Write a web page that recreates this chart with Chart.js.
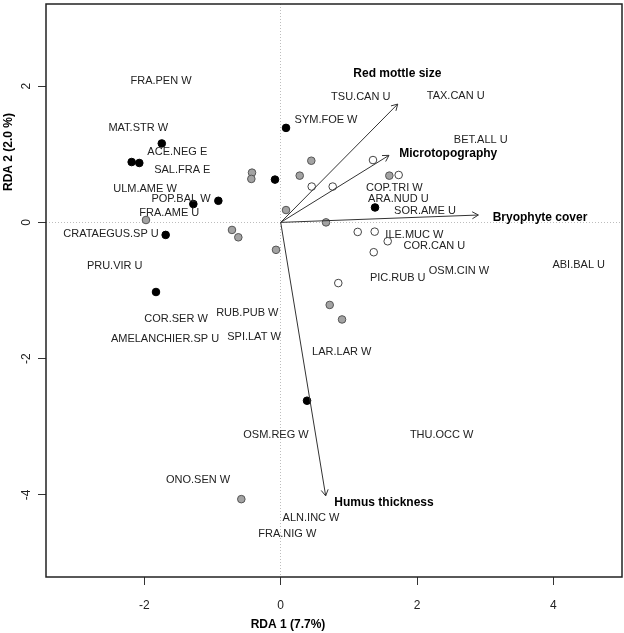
<!DOCTYPE html>
<html><head><meta charset="utf-8">
<script src="https://cdn.jsdelivr.net/npm/chart.js@4.4.1/dist/chart.umd.min.js"></script>
<style>html,body{margin:0;padding:0;background:#fff;} canvas{display:block;}</style>
</head><body>
<canvas id="c" width="624" height="633"></canvas>
<script>
const xTicks = [-2, 0, 2, 4];
const xTickLabels = ['-2', '0', '2', '4'];
const yTicks = [-4, -2, 0, 2];
const yTickLabels = ['-4', '-2', '0', '2'];
const xTitle = 'RDA 1 (7.7%)';
const yTitle = 'RDA 2 (2.0 %)';

const blackX = [-1.745, -2.187, -2.075, -0.084, -0.915, -1.282, -1.688, 0.078, -1.83, 1.384, 0.386];
const blackY = [1.159, 0.886, 0.872, 0.628, 0.317, 0.269, -0.184, 1.387, -1.022, 0.219, -2.618];
const greyX = [-0.421, -0.431, 0.078, -1.977, -0.715, -0.622, -0.069, 0.449, 0.279, 1.594, 0.665, 0.719, 0.9, -0.578];
const greyY = [0.730, 0.638, 0.181, 0.035, -0.111, -0.219, -0.403, 0.905, 0.686, 0.686, 0.0, -1.212, -1.425, -4.063];
const whiteX = [1.354, 1.731, 0.455, 0.763, 1.13, 1.379, 1.57, 1.365, 0.845];
const whiteY = [0.915, 0.696, 0.526, 0.526, -0.14, -0.136, -0.277, -0.438, -0.891];

const envNames = ['Red mottle size', 'Microtopography', 'Bryophyte cover', 'Humus thickness'];
const envX = [1.717, 1.589, 2.9, 0.66];
const envY = [1.737, 0.984, 0.108, -4.015];
const envLabelX = [1.711, 2.459, 3.805, 1.516];
const envLabelY = [2.18, 1.013, 0.073, -4.111];

const speciesNames = ['FRA.PEN W', 'MAT.STR W', 'ACE.NEG E', 'SAL.FRA E', 'ULM.AME W', 'POP.BAL W', 'FRA.AME U', 'CRATAEGUS.SP U',
  'PRU.VIR U', 'COR.SER W', 'AMELANCHIER.SP U', 'RUB.PUB W', 'SPI.LAT W',
  'TSU.CAN U', 'TAX.CAN U', 'SYM.FOE W', 'BET.ALL U', 'COP.TRI W', 'ARA.NUD U', 'SOR.AME U',
  'ILE.MUC W', 'COR.CAN U', 'ABI.BAL U', 'OSM.CIN W', 'PIC.RUB U', 'LAR.LAR W',
  'OSM.REG W', 'THU.OCC W', 'ONO.SEN W', 'ALN.INC W', 'FRA.NIG W'];
const speciesX = [-1.756, -2.09, -1.517, -1.444, -1.991, -1.463, -1.635, -2.49,
  -2.436, -1.536, -1.698, -0.49, -0.392,
  1.174, 2.568, 0.665, 2.935, 1.667, 1.726, 2.117,
  1.961, 2.254, 4.373, 2.616, 1.717, 0.895,
  -0.069, 2.362, -1.213, 0.445, 0.097];
const speciesY = [2.069, 1.387, 1.028, 0.774, 0.492, 0.346, 0.142, -0.169,
  -0.642, -1.42, -1.717, -1.337, -1.683,
  1.839, 1.854, 1.499, 1.207, 0.511, 0.346, 0.171,
  -0.18, -0.34, -0.632, -0.71, -0.818, -1.898,
  -3.128, -3.128, -3.781, -4.34, -4.569];

const pts = (xs, ys) => xs.map((x, i) => ({x: x, y: ys[i]}));
const FONT = "'Liberation Sans', Arial, sans-serif";
Chart.defaults.font.family = FONT;

const datasets = [];
envNames.forEach((n, i) => {
  datasets.push({type: 'line', label: n, isArrow: true, data: [{x: 0, y: 0}, {x: envX[i], y: envY[i]}],
    borderColor: '#333', borderWidth: 1, pointRadius: 0, fill: false, tension: 0});
});
datasets.push({type: 'scatter', label: 'grey', data: pts(greyX, greyY), pointRadius: 3.8,
  backgroundColor: '#a3a3a3', borderColor: '#555', borderWidth: 1});
datasets.push({type: 'scatter', label: 'white', data: pts(whiteX, whiteY), pointRadius: 3.8,
  backgroundColor: '#fff', borderColor: '#444', borderWidth: 1});
datasets.push({type: 'scatter', label: 'black', data: pts(blackX, blackY), pointRadius: 3.8,
  backgroundColor: '#000', borderColor: '#000', borderWidth: 1});

const overlay = {
  id: 'overlay',
  afterDatasetsDraw(chart) {
    const ctx = chart.ctx, xs = chart.scales.x, ys = chart.scales.y, a = chart.chartArea;
    ctx.save();
    chart.data.datasets.forEach((ds, di) => {
      if (!ds.isArrow) return;
      const m = chart.getDatasetMeta(di).data;
      const p0 = m[0], p1 = m[1];
      const ang = Math.atan2(p1.y - p0.y, p1.x - p0.x);
      const L = 7, w = Math.PI / 6;
      ctx.strokeStyle = '#333'; ctx.lineWidth = 1;
      ctx.beginPath();
      ctx.moveTo(p1.x - L * Math.cos(ang - w), p1.y - L * Math.sin(ang - w));
      ctx.lineTo(p1.x, p1.y);
      ctx.lineTo(p1.x - L * Math.cos(ang + w), p1.y - L * Math.sin(ang + w));
      ctx.stroke();
    });
    ctx.fillStyle = '#222';
    ctx.font = '11px ' + FONT;
    ctx.textAlign = 'center'; ctx.textBaseline = 'middle';
    speciesNames.forEach((n, i) => {
      ctx.fillText(n, xs.getPixelForValue(speciesX[i]), ys.getPixelForValue(speciesY[i]));
    });
    ctx.fillStyle = '#000';
    ctx.font = 'bold 12px ' + FONT;
    envNames.forEach((n, i) => {
      ctx.fillText(n, xs.getPixelForValue(envLabelX[i]), ys.getPixelForValue(envLabelY[i]));
    });
    ctx.strokeStyle = '#222'; ctx.lineWidth = 1.5;
    ctx.strokeRect(a.left, a.top, a.right - a.left, a.bottom - a.top);
    ctx.fillStyle = '#000';
    ctx.font = 'bold 12px ' + FONT;
    ctx.fillText(xTitle, 288, 625);
    ctx.translate(9, 152);
    ctx.rotate(-Math.PI / 2);
    ctx.fillText(yTitle, 0, 0);
    ctx.restore();
  }
};

const gridOpts = {
  color: c => (c.tick && c.tick.value === 0) ? '#bdbdbd' : 'rgba(0,0,0,0)',
  lineWidth: 1, tickColor: '#333', tickLength: 8, tickWidth: 1
};
const noPad = s => { s.paddingTop = 0; s.paddingBottom = 0; s.paddingLeft = 0; s.paddingRight = 0; };

new Chart(document.getElementById('c'), {
  data: {datasets: datasets},
  options: {
    responsive: false, animation: false, devicePixelRatio: 1,
    layout: {autoPadding: false, padding: {top: 4, right: 2, left: 0, bottom: 0}},
    plugins: {legend: {display: false}, tooltip: {enabled: false}},
    scales: {
      x: {type: 'linear', min: -3.444, max: 5.008,
        afterBuildTicks: s => { s.ticks = xTicks.map(v => ({value: v})); },
        afterFit: s => { s.height = 56; noPad(s); },
        grid: gridOpts, border: {display: false, dash: [1, 2]},
        ticks: {callback: (v, i) => xTickLabels[i], color: '#222', font: {size: 12}, padding: 13, maxRotation: 0}
      },
      y: {type: 'linear', min: -5.206, max: 3.206,
        afterBuildTicks: s => { s.ticks = yTicks.map(v => ({value: v})); },
        afterFit: s => { s.width = 46; noPad(s); },
        grid: gridOpts, border: {display: false, dash: [1, 2]},
        ticks: {callback: (v, i) => yTickLabels[i], color: '#222', font: {size: 12}, padding: 6,
          minRotation: 90, maxRotation: 90, crossAlign: 'center'}
      }
    }
  },
  plugins: [overlay]
});
</script>
</body></html>
